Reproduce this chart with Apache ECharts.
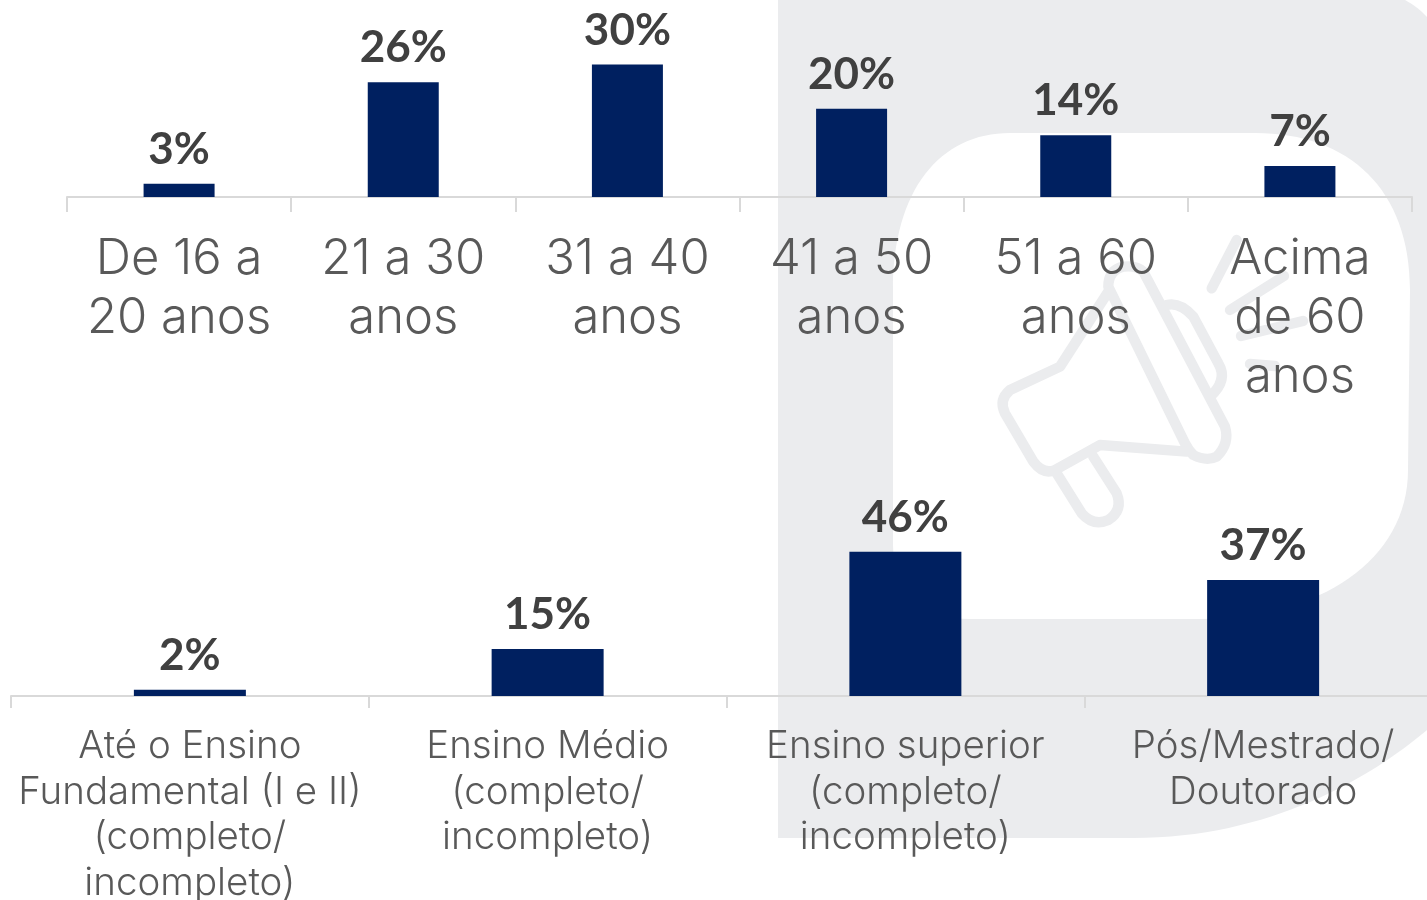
<!DOCTYPE html>
<html><head><meta charset="utf-8">
<style>html,body{margin:0;padding:0;background:#fff;overflow:hidden}#c{width:1427px;height:900px}</style>
<script src="https://cdn.jsdelivr.net/npm/echarts@6/dist/echarts.min.js"></script>
</head><body><div id="c"></div>
<script>
const ageCategories = ['De 16 a\n20 anos','21 a 30\nanos','31 a 40\nanos','41 a 50\nanos','51 a 60\nanos','Acima\nde 60\nanos'];
const ageValues = [3,26,30,20,14,7];
const eduCategories = ['Até o Ensino\nFundamental (I e II)\n(completo/\nincompleto)','Ensino Médio\n(completo/\nincompleto)','Ensino superior\n(completo/\nincompleto)','Pós/Mestrado/\nDoutorado'];
const eduValues = [2,15,46,37];

const FONT = 'Inter';
const GREY = '#EBECEE';
const chart = echarts.init(document.getElementById('c'), null, {renderer:'canvas'});
const axisBase = (idx, cats, tick, margin, size, lh) => ({
  type:'category', gridIndex:idx, data:cats,
  axisLine:{show:true,lineStyle:{color:'#D9D9D9',width:2}},
  axisTick:{show:true,alignWithLabel:false,length:tick,lineStyle:{color:'#D9D9D9',width:2}},
  axisLabel:{interval:0,margin:margin,color:'#595959',fontFamily:FONT,fontWeight:300,fontSize:size,lineHeight:lh,hideOverlap:false}
});
const valAxis = (idx,max)=>({type:'value',gridIndex:idx,min:0,max:max,show:false,splitLine:{show:false}});
const barSeries = (idx,vals,w)=>({
  type:'bar',xAxisIndex:idx,yAxisIndex:idx,data:vals,barWidth:w,z:3,
  itemStyle:{color:'#002060'},
  label:{show:true,position:'top',distance:12,formatter:'{c}%',color:'#404040',fontFamily:'Lato',fontWeight:700,fontSize:44}
});
let shapeN = 0;
const shapeType = (d)=>{
  const name = 'deco'+(shapeN++);
  echarts.graphic.registerShape(name, echarts.graphic.extendPath(d,{}));
  return name;
};
const mega = (d)=>({type:shapeType(d),x:980,y:230,scaleX:1/3,scaleY:1/3,z:-9,silent:true,
  style:{fill:'none',stroke:GREY,lineWidth:31,lineCap:'round',lineJoin:'round'}});
chart.setOption({
  animation:false,
  backgroundColor:'#fff',
  graphic:{elements:[
    {type:shapeType('M778,0 L1405,0 Q1418,7 1427,17 L1427,730 C1370,778 1270,838 1133,838 L778,838 Z'),z:-10,silent:true,style:{fill:GREY}},
    {type:shapeType('M893,290 C893,190 940,133 1010,133 L1255,133 C1350,133 1410,190 1410,290 L1408,470 C1408,560 1320,619 1200,619 L970,619 C925,619 893,590 893,545 Z'),z:-10,silent:true,style:{fill:'#fff'}},
    mega('M385,170 Q385,120 430,110 Q470,105 490,125 L735,590 Q750,640 710,680 Q680,695 640,675 Q625,660 615,640 L385,170'),
    mega('M385,185 L240,410 L90,480 Q55,510 75,550 L160,695 Q190,735 225,720 L360,645 L620,665'),
    mega('M230,730 L305,850 Q340,890 385,870 Q430,840 410,790 L340,680'),
    mega('M560,225 Q600,215 640,260 L715,400 Q745,450 690,500'),
    mega('M695,175 L770,30'),
    mega('M750,240 L912,138'),
    mega('M783,318 L969,273'),
    mega('M810,402 L885,408')
  ]},
  grid:[
    {left:67,top:0,width:1345,height:197,outerBoundsMode:'none'},
    {left:11,top:508,width:1431,height:188,outerBoundsMode:'none'}
  ],
  xAxis:[axisBase(0,ageCategories,15,33,49,59),axisBase(1,eduCategories,12,28,38.5,45.5)],
  yAxis:[valAxis(0,44.6),valAxis(1,60)],
  series:[barSeries(0,ageValues,71),barSeries(1,eduValues,112)]
});
</script></body></html>
